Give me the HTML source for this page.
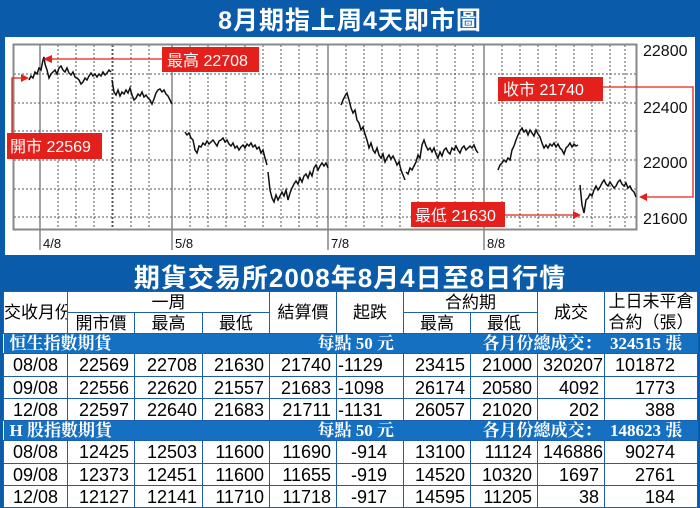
<!DOCTYPE html>
<html><head><meta charset="utf-8"><style>
*{margin:0;padding:0;box-sizing:border-box}
body{width:700px;height:508px;background:#0a5cab;position:relative;overflow:hidden;font-family:"Liberation Sans","Noto Sans CJK TC",sans-serif}
.title{position:absolute;left:0;width:700px;text-align:center;color:#fff;font-weight:bold;font-family:"Liberation Sans","Noto Sans CJK TC",sans-serif}
.panel{position:absolute;left:5px;top:37px;width:690px;height:218px;background:#fff}
table{position:absolute;left:3px;top:291px;width:694px;border-collapse:collapse;table-layout:fixed;background:#fff}
td{border:1.5px solid #1b5fae;font-size:18px;line-height:1;padding:0;white-space:nowrap;overflow:hidden}
.h td{font-size:17px;text-align:center;font-family:"Liberation Sans","Noto Sans CJK TC",sans-serif}
.sec td{background:#1570c2;color:#fff;font-family:"Liberation Serif","Noto Serif CJK SC",serif;font-weight:bold;font-size:17px;border-left:none;border-right:none}
.d td{text-align:right;padding-right:5px}
.d td:first-child{text-align:center;padding:0}
.d td.l{text-align:left;padding-left:1px}
.d td.r2{padding-right:16px}
.d td.r9{padding-right:22px}
</style></head><body>
<div class="title" style="top:1px;font-size:25px;letter-spacing:1px">8月期指上周4天即市圖</div>
<div class="panel"></div>
<svg style="position:absolute;left:0;top:0" width="700" height="258">
<g stroke="#555" stroke-width="1" stroke-dasharray="2,2" fill="none">
<line x1="14" y1="74" x2="636" y2="74"/><line x1="14" y1="103" x2="636" y2="103"/><line x1="14" y1="131" x2="636" y2="131"/><line x1="14" y1="160" x2="636" y2="160"/><line x1="14" y1="189" x2="636" y2="189"/><line x1="14" y1="217" x2="636" y2="217"/>
<line x1="58" y1="45" x2="58" y2="229"/><line x1="76" y1="45" x2="76" y2="229"/><line x1="94" y1="45" x2="94" y2="229"/><line x1="113" y1="45" x2="113" y2="229"/><line x1="131" y1="45" x2="131" y2="229"/><line x1="149" y1="45" x2="149" y2="229"/><line x1="190" y1="45" x2="190" y2="229"/><line x1="208" y1="45" x2="208" y2="229"/><line x1="226" y1="45" x2="226" y2="229"/><line x1="245" y1="45" x2="245" y2="229"/><line x1="263" y1="45" x2="263" y2="229"/><line x1="281" y1="45" x2="281" y2="229"/><line x1="299" y1="45" x2="299" y2="229"/><line x1="317" y1="45" x2="317" y2="229"/><line x1="346" y1="45" x2="346" y2="229"/><line x1="364" y1="45" x2="364" y2="229"/><line x1="382" y1="45" x2="382" y2="229"/><line x1="400" y1="45" x2="400" y2="229"/><line x1="418" y1="45" x2="418" y2="229"/><line x1="437" y1="45" x2="437" y2="229"/><line x1="455" y1="45" x2="455" y2="229"/><line x1="473" y1="45" x2="473" y2="229"/><line x1="502" y1="45" x2="502" y2="229"/><line x1="520" y1="45" x2="520" y2="229"/><line x1="538" y1="45" x2="538" y2="229"/><line x1="556" y1="45" x2="556" y2="229"/><line x1="574" y1="45" x2="574" y2="229"/><line x1="592" y1="45" x2="592" y2="229"/><line x1="610" y1="45" x2="610" y2="229"/><line x1="625" y1="45" x2="625" y2="229"/>
<line x1="112" y1="45" x2="112" y2="229"/>
</g>
<g stroke="#666" stroke-width="1.2"><line x1="40" y1="45" x2="40" y2="250"/><line x1="172" y1="45" x2="172" y2="250"/><line x1="328" y1="45" x2="328" y2="250"/><line x1="484" y1="45" x2="484" y2="250"/></g>
<rect x="13.5" y="44.5" width="623" height="185" fill="none" stroke="#888" stroke-width="2"/>
<g fill="none" stroke="#111" stroke-width="1.5">
<polyline points="29,80 31,76 33,78 35,72 37,74 39,68 41,70 43,60 44,57 45,64 47,70 49,78 51,74 53,72 55,70 57,74 59,68 61,66 63,70 65,72 67,68 69,73 71,75 73,72 75,77 77,78 79,80 81,84 83,82 85,78 87,80 89,76 91,73 93,76 95,74 97,77 99,74 101,76 103,72 105,75 107,73 109,70 111,72"/>
<polyline points="112,80 114,92 116,95 118,90 120,96 122,92 124,94 126,90 128,93 130,88 132,95 134,100 136,98 138,94 140,96 142,92 144,97 146,95 148,98 150,100 152,104 154,99 156,93 158,90 160,89 162,92 164,90 166,94 168,96 170,100 172,104"/>
<polyline points="185,132 187,135 189,133 191,138 193,140 195,150 197,153 199,146 201,147 203,143 205,145 207,141 209,144 211,142 213,140 215,143 217,146 219,141 221,140 223,138 225,142 227,140 229,144 231,146 233,143 235,148 237,146 239,150 241,147 243,145 245,148 247,144 249,146 251,143 253,147 255,145 257,149 259,147 261,153 263,150 265,158 267,165"/>
<polyline points="268,172 270,190 272,198 274,202 276,195 278,200 280,196 282,192 284,196 286,190 288,200 290,193 292,188 294,184 296,181 298,184 300,178 302,182 304,176 306,174 308,178 310,172 312,176 314,168 316,165 318,170 320,166 322,163 324,166 326,163 328,168"/>
<polyline points="341,105 343,100 345,96 347,93 349,100 351,108 353,113 355,110 357,120 359,123 361,130 363,127 365,134 367,140 369,148 371,143 373,150 375,153 377,148 379,155 381,158 383,154 385,162 387,158 389,155 391,159 393,156 395,160 397,165 399,162 401,170 403,175 405,180"/>
<polyline points="406,172 408,174 410,168 412,170 414,166 416,162 418,155 420,158 422,145 424,140 426,146 428,150 430,148 432,152 434,148 436,154 438,158 440,152 442,156 444,150 446,148 448,152 450,154 452,148 454,150 456,146 458,150 460,153 462,148 464,146 466,150 468,148 470,146 472,148 474,145 476,150 478,153"/>
<polyline points="498,170 500,165 502,163 504,160 506,162 508,158 510,160 512,150 514,146 516,140 518,135 520,131 522,128 524,132 526,130 528,135 530,130 532,133 534,136 536,130 538,134 540,137 542,143 544,148 546,145 548,148 550,144 552,146 554,143 556,147 558,144 560,148 562,150 564,154 566,148 568,146 570,143 572,147 574,144 576,146 578,145"/>
<polyline points="580,185 582,205 584,213 586,200 588,198 590,194 592,196 594,190 596,186 598,190 600,187 602,183 604,180 606,184 608,186 610,182 612,185 614,188 616,186 618,182 620,180 622,184 624,186 626,183 628,188 630,186 632,190 634,192 636,197"/>
</g>
<g font-size="16" fill="#111" font-family="Liberation Sans,sans-serif">
<text x="643" y="56">22800</text><text x="643" y="113">22400</text><text x="643" y="168">22000</text><text x="643" y="224">21600</text>
<text x="43" y="248" font-size="13">4/8</text><text x="175" y="248" font-size="13">5/8</text><text x="331" y="248" font-size="13">7/8</text><text x="487" y="248" font-size="13">8/8</text>
</g>
<g stroke="#e3201b" stroke-width="1.3" fill="none">
<polyline points="163,59 50,59"/>
<polyline points="12,133 12,78 24,78"/>
<polyline points="603,87 693,87 693,197 645,197"/>
<polyline points="505,215 575,215"/>
</g>
<g fill="#e3201b">
<polygon points="43,59 52,55 52,63"/><polygon points="29,78 21,74 21,82"/><polygon points="639,197 647,193 647,201"/><polygon points="581,215 573,211 573,219"/>
<rect x="162" y="47" width="97" height="25"/><rect x="7" y="133" width="95" height="26"/><rect x="498" y="77" width="105" height="24"/><rect x="411" y="202" width="94" height="25"/>
</g>
<g fill="#fff" font-size="16" font-family="Liberation Sans,Noto Sans CJK TC,sans-serif">
<text x="167" y="66">最高 22708</text><text x="10" y="152">開市 22569</text><text x="503" y="95">收市 21740</text><text x="415" y="221">最低 21630</text>
</g>
</svg>
<div class="title" style="top:258px;font-size:26px;letter-spacing:1px">期貨交易所2008年8月4日至8日行情</div>
<table>
<colgroup><col style="width:64px"><col style="width:67px"><col style="width:68px"><col style="width:67px"><col style="width:67px"><col style="width:67px"><col style="width:67px"><col style="width:67px"><col style="width:67px"><col style="width:93px"></colgroup>
<tr class="h" style="height:21px"><td rowspan="2">交收月份</td><td colspan="3">一周</td><td rowspan="2">結算價</td><td rowspan="2">起跌</td><td colspan="2">合約期</td><td rowspan="2">成交</td><td rowspan="2" style="line-height:1.2">上日未平倉<br>合約（張）</td></tr>
<tr class="h" style="height:21px"><td>開市價</td><td>最高</td><td>最低</td><td>最高</td><td>最低</td></tr>
<tr class="sec" style="height:20px"><td colspan="4" style="padding-left:6px">恒生指數期貨</td><td colspan="3" style="padding-left:48px">每點 50 元</td><td colspan="3" style="padding-left:12px">各月份總成交：&nbsp;&nbsp;324515 張</td></tr>
<tr class="d" style="height:23px"><td>08/08</td><td>22569</td><td>22708</td><td>21630</td><td>21740</td><td class="l">-1129</td><td>23415</td><td>21000</td><td style="padding-right:1px">320207</td><td class="r9">101872</td></tr>
<tr class="d" style="height:22px"><td>09/08</td><td>22556</td><td>22620</td><td>21557</td><td>21683</td><td class="l">-1098</td><td>26174</td><td>20580</td><td>4092</td><td class="r9">1773</td></tr>
<tr class="d" style="height:22px"><td>12/08</td><td>22597</td><td>22640</td><td>21683</td><td>21711</td><td class="l">-1131</td><td>26057</td><td>21020</td><td>202</td><td class="r9">388</td></tr>
<tr class="sec" style="height:20px"><td colspan="4" style="padding-left:6px">H 股指數期貨</td><td colspan="3" style="padding-left:48px">每點 50 元</td><td colspan="3" style="padding-left:12px">各月份總成交：&nbsp;&nbsp;148623 張</td></tr>
<tr class="d" style="height:23px"><td>08/08</td><td>12425</td><td>12503</td><td>11600</td><td>11690</td><td class="r2">-914</td><td>13100</td><td>11124</td><td style="padding-right:1px">146886</td><td class="r9">90274</td></tr>
<tr class="d" style="height:22px"><td>09/08</td><td>12373</td><td>12451</td><td>11600</td><td>11655</td><td class="r2">-919</td><td>14520</td><td>10320</td><td>1697</td><td class="r9">2761</td></tr>
<tr class="d" style="height:22px"><td>12/08</td><td>12127</td><td>12141</td><td>11710</td><td>11718</td><td class="r2">-917</td><td>14595</td><td>11205</td><td>38</td><td class="r9">184</td></tr>
</table>
</body></html>
